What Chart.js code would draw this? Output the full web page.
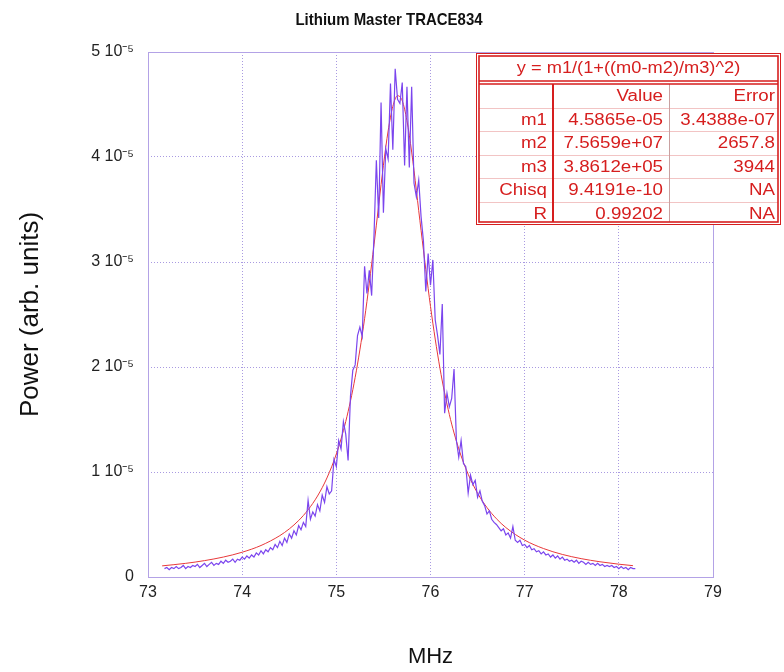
<!DOCTYPE html>
<html>
<head>
<meta charset="utf-8">
<title>Lithium Master TRACE834</title>
<script src="https://cdn.jsdelivr.net/npm/chart.js@4.4.1/dist/chart.umd.min.js"></script>
<style>
  html, body { margin: 0; padding: 0; background: #fff; }
</style>
</head>
<body>
<canvas id="traceChart" width="784" height="672"></canvas>
<script>
// sweep frequency (MHz)
const freq = [
    73.175, 73.2, 73.225, 73.25, 73.275, 73.3, 73.325, 73.35, 73.375, 73.4,
    73.425, 73.45, 73.475, 73.5, 73.525, 73.55, 73.575, 73.6, 73.625, 73.65,
    73.675, 73.7, 73.725, 73.75, 73.775, 73.8, 73.825, 73.85, 73.875, 73.9,
    73.925, 73.95, 73.975, 74, 74.025, 74.05, 74.075, 74.1, 74.125, 74.15,
    74.175, 74.2, 74.225, 74.25, 74.275, 74.3, 74.325, 74.35, 74.375, 74.4,
    74.425, 74.45, 74.475, 74.5, 74.525, 74.55, 74.575, 74.6, 74.625, 74.65,
    74.675, 74.7, 74.725, 74.75, 74.775, 74.8, 74.825, 74.85, 74.875, 74.9,
    74.925, 74.95, 74.975, 75, 75.025, 75.05, 75.075, 75.1, 75.125, 75.15,
    75.175, 75.2, 75.225, 75.25, 75.275, 75.3, 75.325, 75.35, 75.375, 75.4,
    75.425, 75.45, 75.475, 75.5, 75.525, 75.55, 75.575, 75.6, 75.625, 75.65,
    75.675, 75.7, 75.725, 75.75, 75.775, 75.8, 75.825, 75.85, 75.875, 75.9,
    75.925, 75.95, 75.975, 76, 76.025, 76.05, 76.075, 76.1, 76.125, 76.15,
    76.175, 76.2, 76.225, 76.25, 76.275, 76.3, 76.325, 76.35, 76.375, 76.4,
    76.425, 76.45, 76.475, 76.5, 76.525, 76.55, 76.575, 76.6, 76.625, 76.65,
    76.675, 76.7, 76.725, 76.75, 76.775, 76.8, 76.825, 76.85, 76.875, 76.9,
    76.925, 76.95, 76.975, 77, 77.025, 77.05, 77.075, 77.1, 77.125, 77.15,
    77.175, 77.2, 77.225, 77.25, 77.275, 77.3, 77.325, 77.35, 77.375, 77.4,
    77.425, 77.45, 77.475, 77.5, 77.525, 77.55, 77.575, 77.6, 77.625, 77.65,
    77.675, 77.7, 77.725, 77.75, 77.775, 77.8, 77.825, 77.85, 77.875, 77.9,
    77.925, 77.95, 77.975, 78, 78.025, 78.05, 78.075, 78.1, 78.125, 78.15,
    78.175
];

// measured power, in units of 1e-5
const power = [
    0.08, 0.09, 0.07, 0.09, 0.08, 0.10, 0.08, 0.09, 0.11, 0.08,
    0.10, 0.09, 0.11, 0.10, 0.12, 0.09, 0.11, 0.13, 0.10, 0.12,
    0.14, 0.11, 0.13, 0.12, 0.15, 0.13, 0.16, 0.14, 0.15, 0.17,
    0.14, 0.17, 0.16, 0.19, 0.17, 0.20, 0.18, 0.21, 0.19, 0.23,
    0.21, 0.25, 0.22, 0.26, 0.24, 0.28, 0.26, 0.31, 0.28, 0.34,
    0.30, 0.37, 0.33, 0.41, 0.37, 0.44, 0.40, 0.49, 0.45, 0.52,
    0.48, 0.73, 0.55, 0.62, 0.58, 0.69, 0.63, 0.78, 0.71, 0.86,
    0.79, 0.82, 1.12, 1.05, 1.30, 1.22, 1.48, 1.36, 1.11, 1.72,
    1.97, 2.02, 2.30, 2.38, 2.29, 2.96, 2.70, 2.92, 2.68, 3.25,
    3.97, 3.42, 4.52, 3.47, 4.08, 3.98, 4.70, 4.07, 4.84, 4.55,
    4.51, 4.71, 3.92, 4.67, 3.90, 4.67, 3.75, 3.62, 3.78, 3.43,
    3.20, 2.72, 3.08, 2.78, 3.02, 2.45, 2.30, 2.12, 2.60, 1.56,
    1.75, 1.62, 1.70, 1.98, 1.30, 1.14, 1.30, 1.08, 1.05, 0.80,
    0.97, 0.88, 0.92, 0.76, 0.82, 0.72, 0.68, 0.60, 0.63, 0.55,
    0.52, 0.50, 0.47, 0.44, 0.46, 0.40, 0.42, 0.37, 0.48, 0.35,
    0.33, 0.35, 0.30, 0.31, 0.28, 0.30, 0.26, 0.27, 0.24, 0.25,
    0.22, 0.24, 0.21, 0.22, 0.19, 0.21, 0.18, 0.20, 0.17, 0.19,
    0.16, 0.17, 0.15, 0.16, 0.14, 0.16, 0.13, 0.15, 0.14, 0.12,
    0.14, 0.12, 0.13, 0.11, 0.13, 0.11, 0.12, 0.10, 0.11, 0.10,
    0.11, 0.09, 0.10, 0.08, 0.10, 0.08, 0.09, 0.07, 0.09, 0.08,
    0.08
];

// lorentzian fit curve, same units
const fitFreq = [
    73.15, 73.4, 73.6, 73.8, 74.0, 74.2, 74.4, 74.5, 74.6, 74.7,
    74.8, 74.9, 75.0, 75.1, 75.2, 75.3, 75.4, 75.5, 75.55, 75.6,
    75.65, 75.7, 75.75, 75.8, 75.9, 76.0, 76.1, 76.2, 76.3, 76.4,
    76.5, 76.6, 76.7, 76.8, 77.0, 77.2, 77.4, 77.6, 77.8, 78.0,
    78.15
];
const fitPower = [
    0.106, 0.130, 0.156, 0.190, 0.236, 0.300, 0.394, 0.458, 0.538, 0.640,
    0.771, 0.943, 1.172, 1.481, 1.901, 2.460, 3.163, 3.921, 4.248, 4.482,
    4.584, 4.535, 4.345, 4.047, 3.300, 2.577, 1.990, 1.548, 1.221, 0.979,
    0.798, 0.661, 0.555, 0.471, 0.351, 0.271, 0.215, 0.175, 0.145, 0.122,
    0.108
];

// fit results box
const fitEquation = 'y = m1/(1+((m0-m2)/m3)^2)';
const fitColumns = ['', 'Value', 'Error'];
const fitNames = ['m1', 'm2', 'm3', 'Chisq', 'R'];
const fitValues = ['4.5865e-05', '7.5659e+07', '3.8612e+05', '9.4191e-10', '0.99202'];
const fitErrors = ['3.4388e-07', '2657.8', '3944', 'NA', 'NA'];

const FONT = '"Liberation Sans", Arial, Helvetica, sans-serif';
const GRID = 'rgba(140, 120, 215, 0.75)';
const RED = '#d61e1e';

// text stretched or squeezed horizontally around its anchor
function wideText(ctx, text, x, y, sx, align) {
    ctx.save();
    ctx.translate(x, y);
    ctx.scale(sx, 1);
    ctx.textAlign = align;
    ctx.fillText(text, 0, 0);
    ctx.restore();
}

const decorations = {
    id: 'decorations',
    beforeDatasetsDraw(chart) {
        const { ctx, chartArea: a } = chart;
        ctx.save();
        ctx.strokeStyle = '#b3a2e6';
        ctx.lineWidth = 1;
        ctx.strokeRect(a.left + 0.5, a.top + 0.5, a.right - a.left, a.bottom - a.top);
        ctx.restore();
    },
    afterDraw(chart) {
        const ctx = chart.ctx;
        ctx.save();

        // title
        ctx.fillStyle = '#111';
        ctx.font = 'bold 17px ' + FONT;
        ctx.textBaseline = 'middle';
        wideText(ctx, 'Lithium Master TRACE834', 389, 20, 0.88, 'center');

        // fit table
        const L = 476, R = 781, T = 53, head = 29, rowH = 23.5;
        const c1 = 553, c2 = 669;
        const nRows = fitNames.length + 1;
        const B = T + head + nRows * rowH + 2;

        ctx.fillStyle = '#fff';
        ctx.fillRect(L, T, R - L, B - T);

        // faint row rules
        ctx.strokeStyle = '#f2c4c4';
        ctx.lineWidth = 1;
        for (let i = 1; i < nRows; i++) {
            const y = Math.round(T + head + 2 + i * rowH) + 0.5;
            ctx.beginPath();
            ctx.moveTo(L + 3, y);
            ctx.lineTo(R - 3, y);
            ctx.stroke();
        }

        ctx.strokeStyle = '#c9a0a0';
        ctx.beginPath();
        ctx.moveTo(c2 + 0.5, T + head + 2);
        ctx.lineTo(c2 + 0.5, B - 3);
        ctx.stroke();

        ctx.strokeStyle = RED;
        ctx.lineWidth = 1;
        ctx.strokeRect(L + 0.5, T + 0.5, R - L - 1, B - T - 1);
        ctx.lineWidth = 1.6;
        ctx.strokeRect(L + 3, T + 3, R - L - 6, B - T - 6);
        ctx.beginPath();
        ctx.moveTo(L + 3, T + head - 1);
        ctx.lineTo(R - 3, T + head - 1);
        ctx.moveTo(L + 3, T + head + 2);
        ctx.lineTo(R - 3, T + head + 2);
        ctx.stroke();
        ctx.lineWidth = 2;
        ctx.beginPath();
        ctx.moveTo(c1, T + head + 2);
        ctx.lineTo(c1, B - 3);
        ctx.stroke();

        ctx.fillStyle = RED;
        ctx.font = '16px ' + FONT;
        ctx.textBaseline = 'middle';
        const sx = 1.17;
        wideText(ctx, fitEquation, (L + R) / 2, T + head / 2 + 1, 1.14, 'center');

        const rowY = i => T + head + 2 + i * rowH + rowH / 2 + 1;
        wideText(ctx, fitColumns[1], c2 - 6, rowY(0), sx, 'right');
        wideText(ctx, fitColumns[2], R - 6, rowY(0), sx, 'right');
        fitNames.forEach((n, i) => {
            wideText(ctx, n, c1 - 6, rowY(i + 1), sx, 'right');
            wideText(ctx, fitValues[i], c2 - 6, rowY(i + 1), sx, 'right');
            wideText(ctx, fitErrors[i], R - 6, rowY(i + 1), sx, 'right');
        });

        ctx.restore();
    }
};

const renderChart = () => {
    const ctx = document.getElementById('traceChart').getContext('2d');

    new Chart(ctx, {
        type: 'line',
        data: {
            datasets: [{
                label: 'TRACE834',
                data: freq.map((f, i) => ({ x: f, y: power[i] })),
                borderColor: '#7b45ee',
                borderWidth: 1.2,
                pointRadius: 0,
                tension: 0
            }, {
                label: 'fit',
                data: fitFreq.map((f, i) => ({ x: f, y: fitPower[i] })),
                borderColor: '#e8383a',
                borderWidth: 1,
                pointRadius: 0,
                cubicInterpolationMode: 'monotone'
            }]
        },
        options: {
            responsive: false,
            animation: false,
            devicePixelRatio: 1,
            layout: { padding: { top: 52, right: 71, left: 0, bottom: 0 } },
            plugins: {
                legend: { display: false },
                tooltip: { enabled: false }
            },
            scales: {
                x: {
                    type: 'linear',
                    min: 73,
                    max: 79,
                    afterFit: s => { s.height = 95; },
                    ticks: {
                        stepSize: 1,
                        padding: 6,
                        color: '#222',
                        font: { family: FONT, size: 16 }
                    },
                    grid: { color: GRID, drawTicks: false },
                    border: { display: false, dash: [1, 2] },
                    title: {
                        display: true,
                        text: 'MHz',
                        color: '#111',
                        font: { family: FONT, size: 22 },
                        padding: { top: 0, bottom: 2 }
                    }
                },
                y: {
                    min: 0,
                    max: 5,
                    afterFit: s => { s.width = 148; },
                    ticks: {
                        stepSize: 1,
                        padding: 14,
                        color: '#222',
                        font: { family: FONT, size: 16 },
                        callback: v => v === 0 ? '0' : v + ' 10\u207B\u2075'
                    },
                    grid: { color: GRID, drawTicks: false },
                    border: { display: false, dash: [1, 2] },
                    title: {
                        display: true,
                        text: 'Power (arb. units)',
                        color: '#111',
                        font: { family: FONT, size: 26 },
                        padding: { top: 15, bottom: 0 }
                    }
                }
            }
        },
        plugins: [decorations]
    });
};

document.addEventListener('DOMContentLoaded', renderChart);
</script>
</body>
</html>
